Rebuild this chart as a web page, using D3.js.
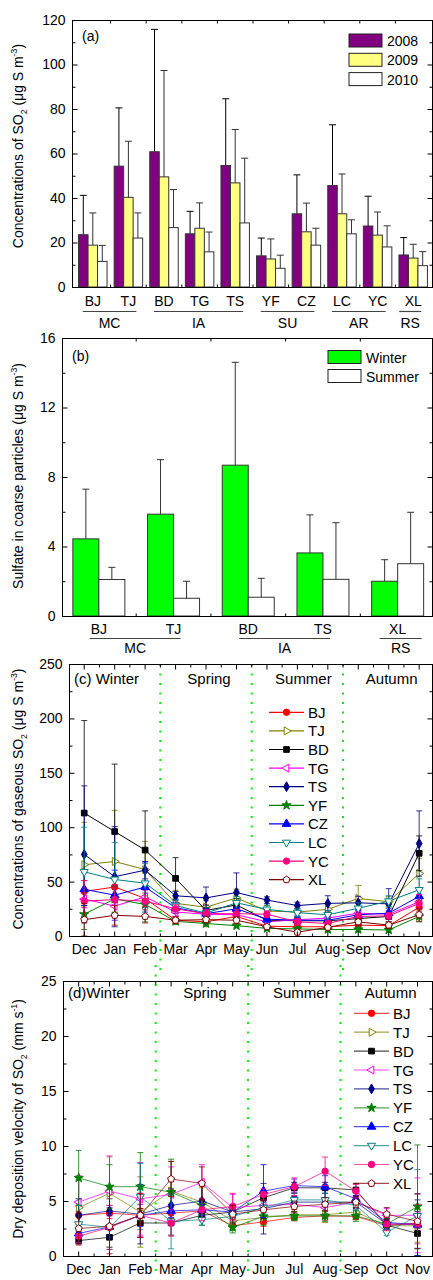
<!DOCTYPE html>
<html>
<head>
<meta charset="utf-8">
<script src="https://cdn.jsdelivr.net/npm/d3@7"></script>
<style>
  body { margin: 0; background: #fff; }
  svg { display: block; }
</style>
</head>
<body>
<div id="chart"></div>
<script>
// ---------- data ----------
// (a) annual SO2 per site
const sitesA = ['BJ', 'TJ', 'BD', 'TG', 'TS', 'YF', 'CZ', 'LC', 'YC', 'XL'];
const years = ['2008', '2009', '2010'];
const so2_2008 = [23.5, 54.3, 60.8, 23.9, 54.6, 14.0, 32.9, 45.6, 27.4, 14.4];
const so2_2008sd = [17.7, 26.2, 55.0, 10.1, 30.0, 8.0, 17.5, 27.3, 13.4, 7.8];
const so2_2009 = [18.8, 40.3, 49.5, 26.4, 46.8, 12.6, 24.8, 32.9, 23.3, 13.0];
const so2_2009sd = [14.5, 25.2, 47.8, 11.4, 24.0, 9.0, 12.9, 17.9, 10.4, 6.2];
const so2_2010 = [11.5, 22.0, 26.7, 15.8, 28.8, 8.4, 18.8, 23.9, 18.0, 9.6];
const so2_2010sd = [7.2, 11.3, 17.1, 8.9, 29.1, 5.9, 7.6, 6.3, 9.5, 6.3];
const groupsA = [['MC', 'BJ', 'TJ'], ['IA', 'BD', 'TS'], ['SU', 'YF', 'CZ'], ['AR', 'LC', 'YC'], ['RS', 'XL', 'XL']];
const ticksA = [0, 20, 40, 60, 80, 100, 120];

// (b) sulfate in coarse particles
const sitesB = ['BJ', 'TJ', 'BD', 'TS', 'XL'];
const seasonsB = ['Winter', 'Summer'];
const coarseWinter = [4.44, 5.86, 8.68, 3.63, 2.0];
const coarseWinterSd = [2.86, 3.14, 5.92, 2.19, 1.24];
const coarseSummer = [2.1, 1.02, 1.08, 2.11, 3.01];
const coarseSummerSd = [0.7, 0.98, 1.09, 3.26, 2.96];
const groupsB = [['MC', 'BJ', 'TJ'], ['IA', 'BD', 'TS'], ['RS', 'XL', 'XL']];
const ticksB = [0, 4, 8, 12, 16];

// (c), (d) monthly series
const months = ['Dec', 'Jan', 'Feb', 'Mar', 'Apr', 'May', 'Jun', 'Jul', 'Aug', 'Sep', 'Oct', 'Nov'];
const seasons = ['Winter', 'Spring', 'Summer', 'Autumn'];
const sites = ['BJ', 'TJ', 'BD', 'TG', 'TS', 'YF', 'CZ', 'LC', 'YC', 'XL'];

const gasBJ = [41, 45, 34.5, 14.5, 13, 18, 9, 8.5, 8.5, 10, 9.5, 26.5];
const gasTJ = [65.5, 68.5, 61, 30, 26.5, 35, 23, 22, 24.5, 34.5, 31.5, 57.5];
const gasBD = [113, 96, 79, 53, 23.5, 28.5, 14.5, 14, 14, 16, 18, 76];
const gasTG = [34, 27.5, 36, 22, 20, 19.5, 13, 15, 16.5, 21, 20, 31.5];
const gasTS = [75, 54.5, 60.5, 37, 35, 40, 33, 28, 30, 30.5, 29.5, 85];
const gasYF = [20, 34, 29, 13.5, 11.5, 9.5, 7, 6.5, 6, 6, 5.5, 18];
const gasCZ = [43, 37.5, 45, 26, 20.5, 25, 15.5, 14.5, 14.5, 19.5, 21, 36.5];
const gasLC = [59, 52, 48.5, 28, 21, 30.5, 24.5, 21.5, 19.5, 25.5, 32, 42.5];
const gasYC = [32, 33.5, 32, 25, 20.5, 20.5, 20, 13, 11.5, 18, 18.5, 30];
const gasXL = [15, 19, 18, 14.5, 15, 14.5, 8.5, 3.5, 8, 13, 10, 19.5];

const gasBJsd = [10, 8, 5, 3, 3, 3, 2, 2, 2, 2, 2, 6];
const gasTJsd = [39, 47, 26, 12, 6, 8, 5, 5, 5, 12, 5, 14];
const gasBDsd = [85, 62, 36, 19, 5, 6, 4, 3, 3, 4, 5, 16];
const gasTGsd = [8, 8, 6, 4, 4, 4, 3, 3, 3, 3, 3, 6];
const gasTSsd = [63, 46, 8, 4, 10, 18, 3, 3, 7, 6, 14, 30];
const gasYFsd = [14, 12, 16, 3, 3, 2, 2, 2, 2, 2, 2, 5];
const gasCZsd = [15, 23, 23, 5, 4, 5, 3, 3, 3, 4, 4, 6];
const gasLCsd = [41, 34, 18, 5, 5, 6, 4, 4, 4, 5, 5, 10];
const gasYCsd = [19, 14, 5, 4, 4, 4, 3, 3, 3, 3, 3, 8];
const gasXLsd = [15, 9, 6, 3, 3, 3, 2, 2, 2, 3, 3, 6];
const ticksC = [0, 50, 100, 150, 200, 250];

const vdBJ = [3.7, 3.9, 3.7, 3.9, 4.1, 2.75, 3.1, 3.5, 3.65, 3.6, 2.75, 3.0];
const vdTJ = [4.4, 5.7, 4.0, 5.9, 4.9, 3.2, 3.5, 3.75, 3.75, 4.0, 2.75, 2.75];
const vdBD = [1.4, 1.7, 3.0, 3.0, 3.7, 4.0, 5.3, 6.2, 6.2, 6.0, 2.8, 2.05];
const vdTG = [4.9, 5.9, 5.2, 5.6, 6.7, 4.4, 4.6, 4.7, 4.4, 4.9, 3.7, 3.7];
const vdTS = [3.7, 4.1, 3.8, 4.6, 5.0, 4.0, 4.3, 4.9, 4.9, 4.9, 2.9, 2.9];
const vdYF = [7.1, 6.3, 6.3, 5.8, 4.6, 2.6, 3.6, 3.65, 3.65, 3.65, 2.9, 4.5];
const vdCZ = [2.05, 2.65, 3.7, 4.1, 4.2, 4.0, 5.9, 6.4, 6.3, 5.2, 3.05, 2.85];
const vdLC = [2.9, 2.6, 5.4, 3.15, 3.3, 3.6, 4.4, 5.1, 5.1, 4.6, 2.15, 3.65];
const vdYC = [1.8, 2.6, 3.7, 3.0, 4.2, 4.5, 5.6, 6.3, 7.7, 5.9, 2.9, 2.9];
const vdXL = [2.5, 2.7, 3.7, 7.0, 6.6, 3.8, 4.2, 4.5, 4.7, 4.9, 3.8, 3.15];

const vdBJsd = [0.8, 0.5, 0.6, 0.5, 0.5, 0.4, 0.4, 0.3, 0.4, 0.3, 0.4, 0.5];
const vdTJsd = [2.5, 3.3, 3.2, 2.7, 1.3, 0.8, 0.6, 0.5, 0.7, 0.5, 0.6, 1.5];
const vdBDsd = [0.3, 0.9, 1.3, 1.1, 0.5, 0.5, 0.6, 0.5, 0.5, 0.6, 0.5, 2.0];
const vdTGsd = [2.4, 3.2, 3.3, 2.5, 1.6, 1.2, 1.0, 0.7, 0.6, 0.6, 0.6, 3.4];
const vdTSsd = [1.5, 2.2, 2.7, 1.5, 1.5, 0.6, 2.3, 0.5, 1.5, 0.6, 0.5, 2.2];
const vdYFsd = [2.5, 2.0, 3.1, 3.0, 1.8, 0.5, 0.8, 0.4, 0.5, 0.5, 0.5, 5.6];
const vdCZsd = [0.8, 1.0, 1.0, 0.6, 0.5, 0.5, 2.4, 0.6, 1.0, 0.8, 0.6, 2.8];
const vdLCsd = [1.7, 2.0, 3.0, 2.5, 0.5, 0.6, 0.5, 0.6, 0.6, 0.5, 0.3, 4.2];
const vdYCsd = [0.6, 2.0, 2.0, 1.2, 1.0, 1.2, 0.5, 0.8, 1.3, 0.6, 0.6, 1.8];
const vdXLsd = [1.5, 2.5, 2.0, 1.6, 1.5, 0.8, 0.8, 0.5, 0.6, 0.5, 0.6, 2.5];
const ticksD = [0, 5, 10, 15, 20, 25];

// ---------- style ----------
const siteColors = ['#FF0000', '#808000', '#000000', '#FF00FF', '#000080', '#008000', '#0000FF', '#008080', '#FF0080', '#800000'];
const siteShapes = ['circle', 'triR', 'square', 'triL', 'diamond', 'star', 'triUp', 'triDown', 'circle', 'pentagon'];
const siteFilled = [true, false, true, false, true, true, true, false, true, false];
const FONT = 'Arial, "Liberation Sans", sans-serif';
const RIGHT = 432;

const svg = d3.select('#chart').append('svg')
  .attr('width', 433).attr('height', 1280)
  .style('font-family', FONT);

function styleAxis(g, size) {
  g.attr('font-family', null).attr('font-size', size || 14);
  g.select('.domain').remove();
  g.selectAll('line').attr('stroke', '#000');
  g.selectAll('text').attr('fill', '#000');
}

function frame(x0, x1, y0, y1) {
  svg.append('rect')
    .attr('x', x0 + 0.5).attr('y', y0 + 0.5)
    .attr('width', x1 - x0).attr('height', y1 - y0)
    .attr('fill', 'none').attr('stroke', '#000').attr('stroke-width', 1);
}

function yAxes(y, x0, x1, major) {
  const step = major[1] - major[0];
  const minor = major.slice(0, -1).map(v => v + step / 2);
  svg.append('g').attr('transform', `translate(${x0 + 0.5},0)`)
    .call(d3.axisLeft(y).tickValues(major).tickSize(-5).tickPadding(7).tickSizeOuter(0))
    .call(g => styleAxis(g));
  svg.append('g').attr('transform', `translate(${x0 + 0.5},0)`)
    .call(d3.axisLeft(y).tickValues(minor).tickSize(-3).tickFormat('').tickSizeOuter(0))
    .call(g => styleAxis(g));
  svg.append('g').attr('transform', `translate(${x1 + 0.5},0)`)
    .call(d3.axisRight(y).tickValues(major).tickSize(-5).tickFormat('').tickSizeOuter(0))
    .call(g => styleAxis(g));
  svg.append('g').attr('transform', `translate(${x1 + 0.5},0)`)
    .call(d3.axisRight(y).tickValues(minor).tickSize(-3).tickFormat('').tickSizeOuter(0))
    .call(g => styleAxis(g));
}

function vTicks(xs, y0, y1, len) {
  xs.forEach(v => {
    svg.append('line').attr('x1', v).attr('x2', v).attr('y1', y1 + 0.5).attr('y2', y1 + 0.5 - len).attr('stroke', '#000');
    svg.append('line').attr('x1', v).attr('x2', v).attr('y1', y0 + 0.5).attr('y2', y0 + 0.5 + len).attr('stroke', '#000');
  });
}

// rotated y title with sub/superscripts: parts = [[text, 'n'|'sub'|'sup'], ...]
function yTitle(parts, cx, cy, size) {
  const t = svg.append('text')
    .attr('transform', `translate(${cx},${cy}) rotate(-90)`)
    .attr('text-anchor', 'middle').attr('dy', '0.35em')
    .attr('font-size', size).attr('fill', '#000');
  let shift = 0;
  parts.forEach(([txt, kind]) => {
    const target = kind === 'sub' ? 4 : kind === 'sup' ? -6 : 0;
    t.append('tspan').attr('dy', target - shift)
      .attr('font-size', kind === 'n' ? size : size * 0.62).text(txt);
    shift = target;
  });
}

function groupLabels(x, groups, yLine, yText, padL, padR, padSingleL, padSingleR) {
  const half = x.bandwidth() / 2;
  groups.forEach(([name, a, b]) => {
    const single = a === b;
    const xa = x(a) + half - (single ? padSingleL : padL);
    const xb = x(b) + half + (single ? padSingleR : padR);
    svg.append('line').attr('x1', xa).attr('x2', xb).attr('y1', yLine).attr('y2', yLine)
      .attr('stroke', '#444').attr('stroke-width', 1.2);
    svg.append('text').attr('x', (xa + xb) / 2).attr('y', yText)
      .attr('text-anchor', 'middle').attr('font-size', 14).text(name);
  });
}

function barErr(cx, yBase, yTop, color) {
  svg.append('line').attr('x1', cx).attr('x2', cx).attr('y1', yBase).attr('y2', yTop).attr('stroke', color);
  svg.append('line').attr('x1', cx - 3.5).attr('x2', cx + 3.5).attr('y1', yTop).attr('y2', yTop).attr('stroke', color);
}

function legendBox(x, y, fill, label) {
  svg.append('rect').attr('x', x).attr('y', y).attr('width', 33).attr('height', 13)
    .attr('fill', fill).attr('stroke', '#222');
  svg.append('text').attr('x', x + 38).attr('y', y + 12).attr('font-size', 14).text(label);
}

// ---------- panel (a) ----------
{
  const x0 = 72, x1 = RIGHT, y0 = 20, y1 = 287;
  const y = d3.scaleLinear().domain([0, 120]).range([y1, y0]);
  const x = d3.scaleBand().domain(sitesA).range([75, 431]).paddingInner(0.2).paddingOuter(0.1);
  const xs = d3.scaleBand().domain(years).range([0, x.bandwidth()]);
  const means = [so2_2008, so2_2009, so2_2010];
  const sds = [so2_2008sd, so2_2009sd, so2_2010sd];
  const fills = ['#800080', '#FFFF80', '#FFFFFF'];
  const errColors = ['#000', '#333', '#333'];

  years.forEach((yr, k) => {
    sitesA.forEach((s, i) => {
      const bx = x(s) + xs(yr);
      const cx = bx + xs.bandwidth() / 2;
      barErr(cx, y(means[k][i]), y(means[k][i] + sds[k][i]), errColors[k]);
      svg.append('rect').attr('x', bx).attr('y', y(means[k][i]))
        .attr('width', xs.bandwidth()).attr('height', y(0) - y(means[k][i]))
        .attr('fill', fills[k]).attr('stroke', '#333').attr('stroke-width', 1);
    });
  });

  frame(x0, x1, y0, y1);
  yAxes(y, x0, x1, ticksA);
  const bounds = sitesA.slice(1).map(s => x(s) - x.step() * x.paddingInner() / 2);
  vTicks(bounds, y0, y1, 3);
  svg.append('g').attr('transform', `translate(0,${y1 + 0.5})`)
    .call(d3.axisBottom(x).tickSize(0).tickPadding(8.5))
    .call(g => styleAxis(g));
  groupLabels(x, groupsA, 311.5, 328, 10, 8, 14, 8);

  years.forEach((yr, k) => legendBox(349, 34 + k * 19.3, fills[k], yr));
  svg.append('text').attr('x', 82).attr('y', 41).attr('font-size', 14).text('(a)');
  yTitle([['Concentrations of SO', 'n'], ['2', 'sub'], [' (\u03bcg S m', 'n'], ['-3', 'sup'], [')', 'n']], 23, 146, 14);
}

// ---------- panel (b) ----------
{
  const x0 = 62, x1 = RIGHT, y0 = 338, y1 = 616;
  const y = d3.scaleLinear().domain([0, 16]).range([y1, y0]);
  const x = d3.scaleBand().domain(sitesB).range([61.5, 435]).paddingInner(0.304).paddingOuter(0.152);
  const xs = d3.scaleBand().domain(seasonsB).range([0, x.bandwidth()]);
  const means = [coarseWinter, coarseSummer];
  const sds = [coarseWinterSd, coarseSummerSd];
  const fills = ['#00FF00', '#FFFFFF'];

  seasonsB.forEach((se, k) => {
    sitesB.forEach((s, i) => {
      const bx = x(s) + xs(se);
      const cx = bx + xs.bandwidth() / 2;
      barErr(cx, y(means[k][i]), y(means[k][i] + sds[k][i]), '#333');
      svg.append('rect').attr('x', bx).attr('y', y(means[k][i]))
        .attr('width', xs.bandwidth()).attr('height', y(0) - y(means[k][i]))
        .attr('fill', fills[k]).attr('stroke', '#333').attr('stroke-width', 1);
    });
  });

  frame(x0, x1, y0, y1);
  yAxes(y, x0, x1, ticksB);
  const bounds = sitesB.slice(1).map(s => x(s) - x.step() * x.paddingInner() / 2);
  vTicks(bounds, y0, y1, 3);
  svg.append('g').attr('transform', `translate(0,${y1 + 0.5})`)
    .call(d3.axisBottom(x).tickSize(0).tickPadding(7.5))
    .call(g => styleAxis(g));
  groupLabels(x, groupsB, 638.5, 653, 9, 7, 18, 24);

  seasonsB.forEach((se, k) => legendBox(328, 350.5 + k * 19, fills[k], se));
  svg.append('text').attr('x', 72).attr('y', 361).attr('font-size', 14).text('(b)');
  yTitle([['Sulfate in coarse particles (\u03bcg S m', 'n'], ['-3', 'sup'], [')', 'n']], 23, 476, 14);
}

// ---------- line panels (c), (d) ----------
function pentagon(size) {
  const r = Math.sqrt(size / 2.378);
  const pts = d3.range(5).map(k => {
    const a = -Math.PI / 2 + k * 2 * Math.PI / 5;
    return [r * Math.cos(a), r * Math.sin(a)];
  });
  return 'M' + pts.join('L') + 'Z';
}
const symbolTypes = {
  circle: d3.symbolCircle, square: d3.symbolSquare, diamond: d3.symbolDiamond, star: d3.symbolStar,
  triUp: d3.symbolTriangle, triR: d3.symbolTriangle, triL: d3.symbolTriangle, triDown: d3.symbolTriangle
};
const symbolRot = { triR: 90, triL: -90, triDown: 180 };
const symbolSize = { circle: 32, square: 32, diamond: 28, star: 26, triUp: 32, triR: 28, triL: 28, triDown: 28, pentagon: 32 };

function marker(i, cx, cy) {
  const shape = siteShapes[i];
  const size = symbolSize[shape];
  const d = shape === 'pentagon' ? pentagon(size) : d3.symbol(symbolTypes[shape], size)();
  svg.append('path').attr('d', d)
    .attr('transform', `translate(${cx},${cy}) rotate(${symbolRot[shape] || 0})`)
    .attr('fill', siteFilled[i] ? siteColors[i] : '#fff')
    .attr('stroke', siteColors[i]).attr('stroke-width', 1);
}

function linePanel(cfg) {
  const { x0, x1, y0, y1, yMax, xRange, means, sds, ticks, tag, seasonY, seasonDx, legX, legY, legStep, dotTop, dotBottom, lineOpacity } = cfg;
  const y = d3.scaleLinear().domain([0, yMax]).range([y1, y0]);
  const x = d3.scaleBand().domain(months).range(xRange);
  const cx = m => x(m) + x.bandwidth() / 2;

  // season separators
  [3, 6, 9].forEach(k => {
    svg.append('line').attr('x1', x(months[k])).attr('x2', x(months[k]))
      .attr('y1', dotTop).attr('y2', dotBottom)
      .attr('stroke', '#00EE00').attr('stroke-width', 2).attr('stroke-dasharray', '2,7.5');
  });

  const line = d3.line().x((d, j) => cx(months[j])).y(d => y(d));
  sites.forEach((s, i) => {
    const col = siteColors[i];
    const eg = svg.append('g').attr('stroke', col).attr('stroke-opacity', 0.8);
    means[i].forEach((v, j) => {
      const px = cx(months[j]);
      const lo = y(Math.max(0, v - sds[i][j])), hi = y(v + sds[i][j]);
      eg.append('line').attr('x1', px).attr('x2', px).attr('y1', lo).attr('y2', hi);
      eg.append('line').attr('x1', px - 3).attr('x2', px + 3).attr('y1', hi).attr('y2', hi);
      eg.append('line').attr('x1', px - 3).attr('x2', px + 3).attr('y1', lo).attr('y2', lo);
    });
    svg.append('path').datum(means[i]).attr('d', line)
      .attr('fill', 'none').attr('stroke', col).attr('stroke-width', 1).attr('stroke-opacity', lineOpacity);
    means[i].forEach((v, j) => marker(i, cx(months[j]), y(v)));
  });

  frame(x0, x1, y0, y1);
  yAxes(y, x0, x1, ticks);
  vTicks(months.slice(1).map(m => x(m)), y0, y1, 3);
  vTicks(months.map(m => cx(m)), y0, y1, 5);
  svg.append('g').attr('transform', `translate(0,${y1 + 0.5})`)
    .call(d3.axisBottom(x).tickSize(0).tickPadding(8))
    .call(g => styleAxis(g));

  // season labels
  seasons.forEach((se, k) => {
    const mid = (cx(months[k * 3]) + cx(months[k * 3 + 2])) / 2;
    if (k === 0) {
      svg.append('text').attr('x', x0 + 5).attr('y', seasonY).attr('font-size', 15).text(tag + se);
    } else {
      svg.append('text').attr('x', mid + seasonDx[k]).attr('y', seasonY)
        .attr('text-anchor', 'middle').attr('font-size', 15).text(se);
    }
  });

  // legend
  sites.forEach((s, i) => {
    const ly = legY + i * legStep;
    svg.append('line').attr('x1', legX).attr('x2', legX + 35).attr('y1', ly).attr('y2', ly)
      .attr('stroke', siteColors[i]).attr('stroke-width', 1.2).attr('stroke-opacity', lineOpacity);
    marker(i, legX + 17.5, ly);
    svg.append('text').attr('x', legX + 39).attr('y', ly + 5.5).attr('font-size', 15).text(s);
  });
}

linePanel({
  x0: 69, x1: RIGHT, y0: 664, y1: 936, yMax: 250, xRange: [69, 434.4],
  means: [gasBJ, gasTJ, gasBD, gasTG, gasTS, gasYF, gasCZ, gasLC, gasYC, gasXL],
  sds: [gasBJsd, gasTJsd, gasBDsd, gasTGsd, gasTSsd, gasYFsd, gasCZsd, gasLCsd, gasYCsd, gasXLsd],
  ticks: ticksC, tag: '(c) ', seasonY: 684, seasonDx: [0, 3, 6, 3],
  legX: 269, legY: 712.3, legStep: 18.6, dotTop: 664, dotBottom: 972, lineOpacity: 1
});
yTitle([['Concentrations of gaseous SO', 'n'], ['2', 'sub'], [' (\u03bcg S m', 'n'], ['-3', 'sup'], [')', 'n']], 23, 799, 14);

linePanel({
  x0: 63, x1: RIGHT, y0: 981, y1: 1256, yMax: 25, xRange: [63.3, 432.9],
  means: [vdBJ, vdTJ, vdBD, vdTG, vdTS, vdYF, vdCZ, vdLC, vdYC, vdXL],
  sds: [vdBJsd, vdTJsd, vdBDsd, vdTGsd, vdTSsd, vdYFsd, vdCZsd, vdLCsd, vdYCsd, vdXLsd],
  ticks: ticksD, tag: '(d)', seasonY: 998, seasonDx: [0, 3, 7, 4],
  legX: 354, legY: 1013.3, legStep: 18.9, dotTop: 965, dotBottom: 1276, lineOpacity: 0.7
});
yTitle([['Dry deposition velocity of SO', 'n'], ['2', 'sub'], [' (mm s', 'n'], ['-1', 'sup'], [')', 'n']], 23, 1119, 14);
</script>
</body>
</html>
